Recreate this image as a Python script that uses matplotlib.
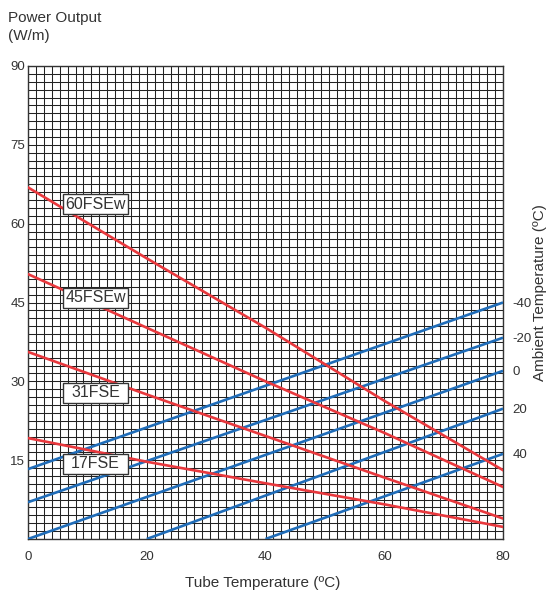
import matplotlib
matplotlib.use('Agg')
import matplotlib.pyplot as plt
from matplotlib.ticker import MultipleLocator
from matplotlib.patches import Rectangle

# ---------------------------------------------------------
# DATA
# ---------------------------------------------------------
# cable power output curves (W/m) vs tube temperature (C)
tube_temp = [0, 20, 40, 60, 80]
p_60fsew = [66.9, 53.4, 40.2, 26.3, 13.1]
p_45fsew = [50.4, 40.2, 30.0, 20.2, 9.9]
p_31fse = [35.6, 27.5, 19.6, 11.7, 3.9]
p_17fse = [19.2, 14.7, 10.6, 6.6, 2.3]
cable_names = ['60FSEw', '45FSEw', '31FSE', '17FSE']
label_y = [63.7, 45.9, 27.8, 14.3]

# ambient temperature lines: (start x, start y) -> (end x, end y)
ambient = ['-40', '-20', '0', '20', '40']
amb_x0 = [0, 0, 0, 20, 40]
amb_y0 = [13.3, 7.0, 0.0, 0.0, 0.0]
amb_x1 = [80, 80, 80, 80, 80]
amb_y1 = [45.0, 38.3, 32.0, 24.8, 16.2]

x_ticks = [0, 20, 40, 60, 80]
y_ticks = [15, 30, 45, 60, 75, 90]

# ---------------------------------------------------------
# STYLE
# ---------------------------------------------------------
plt.rcParams['font.family'] = ['Liberation Sans', 'DejaVu Sans']
txt_col = '#333333'
red = '#e8383d'
blue = '#1f6cb8'

fig = plt.figure(figsize=(5.52, 5.94), dpi=100)
ax = fig.add_axes([28/552, 1-539/594, 475/552, 473/594])

ax.set_xlim(0, 80)
ax.set_ylim(0, 90)
ax.xaxis.set_minor_locator(MultipleLocator(80/60))
ax.yaxis.set_minor_locator(MultipleLocator(1.5))
ax.set_xticks(x_ticks)
ax.set_yticks(y_ticks)
ax.grid(which='both', color='#222222', linewidth=0.75)
ax.set_axisbelow(True)
ax.tick_params(which='both', length=0, labelsize=9.5, labelcolor=txt_col)
ax.tick_params(axis='x', pad=9)
ax.tick_params(axis='y', pad=2)
for s in ax.spines.values():
    s.set_color('#333333')
    s.set_linewidth(1.0)

# ambient lines
for i in range(len(ambient)):
    ax.plot([amb_x0[i], amb_x1[i]], [amb_y0[i], amb_y1[i]], color=blue,
            linewidth=1.9, solid_capstyle='butt', zorder=3)

# cable curves
for p in [p_60fsew, p_45fsew, p_31fse, p_17fse]:
    ax.plot(tube_temp, p, color=red, linewidth=1.9, zorder=4)

# cable label boxes
box_w = 65/5.9375
box_h = 20/5.256
box_cx = 11.4
for name, yc in zip(cable_names, label_y):
    ax.add_patch(Rectangle((box_cx - box_w/2, yc - box_h/2), box_w, box_h,
                           facecolor='white', edgecolor='#333333',
                           linewidth=1.0, zorder=5))
    ax.text(box_cx, yc, name, ha='center', va='center', fontsize=11.5,
            color=txt_col, zorder=6)

# right axis with ambient temperatures
ax2 = ax.twinx()
ax2.set_ylim(0, 90)
ax2.set_yticks(amb_y1)
ax2.set_yticklabels(ambient)
ax2.tick_params(length=0, labelsize=9.5, labelcolor=txt_col, pad=7)
for s in ax2.spines.values():
    s.set_visible(False)
ax2.set_ylabel('Ambient Temperature (ºC)', fontsize=11, color=txt_col)
ax2.yaxis.set_label_coords(1.064, 0.522)

ax.set_xlabel('Tube Temperature (ºC)', fontsize=11, color=txt_col)
ax.xaxis.set_label_coords(0.495, -0.079)
fig.text(8/552, 1-11/594, 'Power Output\n(W/m)', ha='left', va='top',
         fontsize=11, color=txt_col, linespacing=1.35)

fig.savefig('out.png', dpi=100)
